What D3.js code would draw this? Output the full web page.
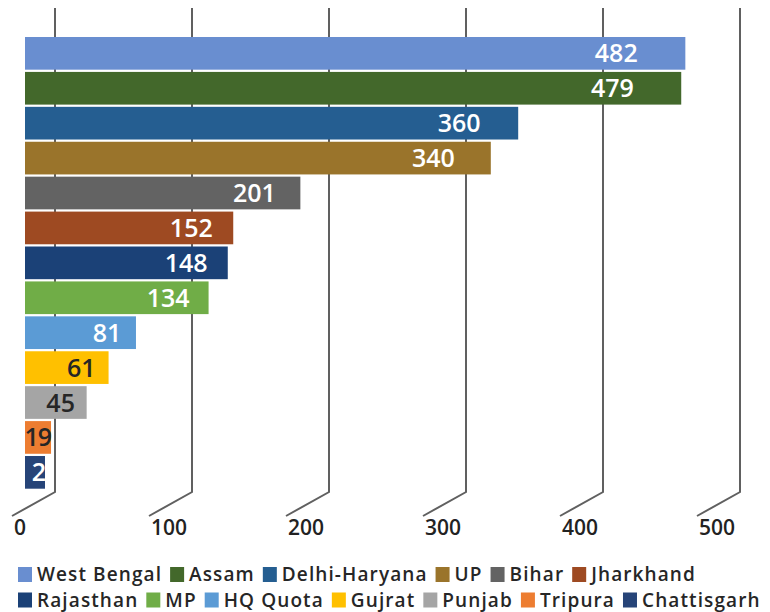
<!DOCTYPE html>
<html>
<head>
<meta charset="utf-8">
<script src="https://cdn.jsdelivr.net/npm/d3@7"></script>
<style>
  body { margin: 0; background: #fff; }
  svg { display: block; font-family: 'Open Sans', sans-serif; }
</style>
</head>
<body>
<script>
'use strict';

(function() {

// data
const states = ['West Bengal', 'Assam', 'Delhi-Haryana', 'UP', 'Bihar', 'Jharkhand',
  'Rajasthan', 'MP', 'HQ Quota', 'Gujrat', 'Punjab', 'Tripura', 'Chattisgarh'];
const counts = [482, 479, 360, 340, 201, 152, 148, 134, 81, 61, 45, 19, 2];
const colors = ['#698ed0', '#43682b', '#255e91', '#9a742b', '#636363', '#9e4a22',
  '#1b4177', '#70ad47', '#5b9bd5', '#ffc000', '#a5a5a5', '#ed7d31', '#264478'];
const darkLabels = ['Gujrat', 'Punjab', 'Tripura'];
const ticks = [0, 100, 200, 300, 400, 500];
const legendRows = [6, 7];

const width = 770, height = 612;

const data = states.map(function (s, i) {
  return { state: s, count: counts[i], color: colors[i] };
});

let x = d3.scaleLinear().domain([0, 500]).range([25, 710]);
let y = d3.scaleBand().domain(states).range([37, 488.7]).paddingInner(0.064);

// depth offsets of the fake 3d floor
const back = 30, front = -13;
const gridTop = 8, gridBottom = 492, floorY = 516;

let svg = d3.select('body').append('svg')
    .attr('width', width)
    .attr('height', height);

// gridlines (back wall + floor)
svg.append('g')
  .selectAll('path')
  .data(ticks).enter()
  .append('path')
    .attr('d', function (d) {
      return 'M' + (x(d) + back) + ',' + gridTop +
        'V' + gridBottom +
        'L' + (x(d) + front) + ',' + floorY;
    })
    .attr('fill', 'none')
    .attr('stroke', '#606060')
    .attr('stroke-width', 2);

// tick labels
svg.append('g')
  .selectAll('text')
  .data(ticks).enter()
  .append('text')
    .attr('x', function (d) { return x(d) + front + 2; })
    .attr('y', 535)
    .attr('fill', '#222')
    .style('font-size', '21px')
    .style('font-weight', 600)
    .text(function (d) { return d; });

// bars
svg.append('g')
  .selectAll('rect')
  .data(data).enter()
  .append('rect')
    .attr('x', x(0))
    .attr('y', function (d) { return y(d.state); })
    .attr('width', function (d) { return Math.max(x(d.count) - x(0), 20); })
    .attr('height', y.bandwidth())
    .attr('fill', function (d) { return d.color; });

// value labels
svg.append('g')
  .selectAll('text')
  .data(data).enter()
  .append('text')
    .attr('x', function (d) {
      const len = Math.max(x(d.count) - x(0), 20);
      return x(0) + len - (len > 40 ? 8 + 0.06 * len : 0);
    })
    .attr('y', function (d) { return y(d.state) + y.bandwidth() / 2; })
    .attr('dy', '0.36em')
    .attr('text-anchor', 'end')
    .attr('fill', function (d) { return darkLabels.indexOf(d.state) >= 0 ? '#262626' : '#fff'; })
    .style('font-size', '25px')
    .style('font-weight', 600)
    .style('letter-spacing', function (d) { return d.count < 20 ? '-1px' : '0px'; })
    .text(function (d) { return d.count; });

// legend
let legend = svg.append('g');
let start = 0;
legendRows.forEach(function (n, r) {
  let cx = 18;
  const cy = 574.5 + r * 25.5;
  data.slice(start, start + n).forEach(function (d) {
    legend.append('rect')
      .attr('x', cx)
      .attr('y', cy - 7.5)
      .attr('width', 14)
      .attr('height', 15)
      .attr('fill', d.color);
    let t = legend.append('text')
      .attr('x', cx + 19)
      .attr('y', cy)
      .attr('dy', '0.36em')
      .attr('fill', '#262626')
      .style('font-size', '19px')
      .style('font-weight', 600)
      .style('letter-spacing', '1.1px')
      .text(d.state);
    cx += 19 + t.node().getComputedTextLength() + 8;
  });
  start += n;
});

})();
</script>
</body>
</html>
